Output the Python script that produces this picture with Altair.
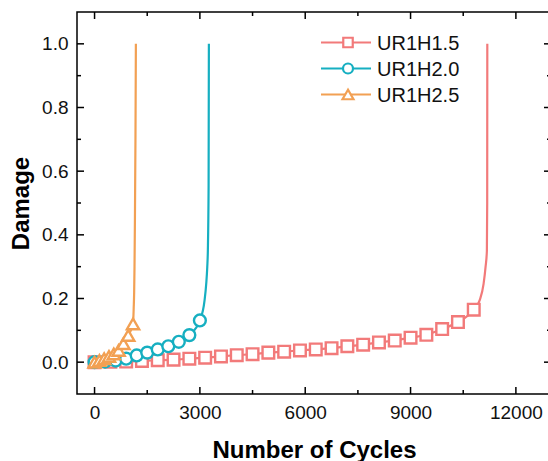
import altair as alt
import pandas as pd

# ---- data ----
series = ["UR1H1.5", "UR1H2.0", "UR1H2.5"]
colors = ["#F27A7A", "#16AFC1", "#F2A053"]
shapes = ["square", "circle", "triangle-up"]

red_mx = [0, 450, 900, 1350, 1800, 2250, 2700, 3150, 3600, 4050, 4500, 4950, 5400,
          5850, 6300, 6750, 7200, 7650, 8100, 8550, 9000, 9450, 9900, 10350, 10800]
red_my = [0.000, 0.001, 0.002, 0.004, 0.006, 0.008, 0.011, 0.014, 0.018, 0.022, 0.025,
          0.030, 0.033, 0.037, 0.040, 0.044, 0.050, 0.055, 0.062, 0.068, 0.077, 0.086,
          0.104, 0.126, 0.165]
red_tx = [10970, 11080, 11137, 11174, 11183, 11186]
red_ty = [0.195, 0.246, 0.300, 0.350, 0.500, 1.000]

blue_mx = [0, 300, 600, 900, 1200, 1500, 1800, 2100, 2400, 2700, 3000]
blue_my = [0.000, 0.002, 0.005, 0.011, 0.021, 0.030, 0.040, 0.050, 0.064, 0.085, 0.131]
blue_tx = [3133, 3181, 3210, 3227, 3248, 3256]
blue_ty = [0.194, 0.247, 0.299, 0.351, 0.550, 1.000]

orange_mx = [0, 137, 274, 411, 548, 685, 822, 959, 1096]
orange_my = [0.000, 0.005, 0.011, 0.018, 0.026, 0.037, 0.058, 0.084, 0.120]
orange_tx = [1115, 1128, 1138, 1150, 1165, 1177]
orange_ty = [0.170, 0.220, 0.300, 0.450, 0.700, 1.000]

x_major = [0, 3000, 6000, 9000, 12000]
x_minor = [1500, 4500, 7500, 10500]
y_major = [0.0, 0.2, 0.4, 0.6, 0.8, 1.0]
y_minor = [0.1, 0.3, 0.5, 0.7, 0.9]

W, H = 474, 382
FONT = "Liberation Sans"

xs = alt.Scale(domain=[-500, 13000], nice=False, zero=False)
ys = alt.Scale(domain=[-0.1, 1.1], nice=False, zero=False)

marker_sets = [(red_mx, red_my, red_tx, red_ty),
               (blue_mx, blue_my, blue_tx, blue_ty),
               (orange_mx, orange_my, orange_tx, orange_ty)]
marker_sizes = [135, 140, 150]

layers = []
first = True
for name, col, shp, msz, (mx, my, tx, ty) in zip(series, colors, shapes, marker_sizes, marker_sets):
    line_df = pd.DataFrame({"x": list(mx) + list(tx), "y": list(my) + list(ty)})
    pt_df = pd.DataFrame({"x": mx, "y": my})
    if first:
        xenc = alt.X("x:Q", scale=xs, axis=alt.Axis(
            values=x_major, format="d", ticks=False, domain=False, grid=False,
            labelPadding=9, title="Number of Cycles", titlePadding=16,
            labelFont=FONT, labelFontSize=19, labelColor="#111111",
            titleFont=FONT, titleFontSize=24, titleFontWeight="bold", titleColor="black"))
        yenc = alt.Y("y:Q", scale=ys, axis=alt.Axis(
            values=y_major, format=".1f", ticks=False, domain=False, grid=False,
            labelPadding=9, title="Damage", titlePadding=8,
            labelFont=FONT, labelFontSize=19, labelColor="#111111",
            titleFont=FONT, titleFontSize=24, titleFontWeight="bold", titleColor="black"))
        first = False
    else:
        xenc = alt.X("x:Q", scale=xs)
        yenc = alt.Y("y:Q", scale=ys)
    layers.append(alt.Chart(line_df).mark_line(
        color=col, strokeWidth=2.2, interpolate="monotone").encode(x=xenc, y=yenc))
    layers.append(alt.Chart(pt_df).mark_point(
        shape=shp, size=msz, filled=True, fill="white", stroke=col, strokeWidth=2.4,
        opacity=1).encode(x=alt.X("x:Q", scale=xs), y=alt.Y("y:Q", scale=ys)))

# inward ticks on all four sides
def xticks(vals, ln):
    df = pd.DataFrame({"x": vals})
    bot = alt.Chart(df).mark_rule(color="black", strokeWidth=1.5).encode(
        x=alt.X("x:Q", scale=xs), y=alt.value(H), y2=alt.value(H - ln))
    top = alt.Chart(df).mark_rule(color="black", strokeWidth=1.5).encode(
        x=alt.X("x:Q", scale=xs), y=alt.value(0), y2=alt.value(ln))
    return [bot, top]

def yticks(vals, ln):
    df = pd.DataFrame({"y": vals})
    lft = alt.Chart(df).mark_rule(color="black", strokeWidth=1.5).encode(
        y=alt.Y("y:Q", scale=ys), x=alt.value(0), x2=alt.value(ln))
    rgt = alt.Chart(df).mark_rule(color="black", strokeWidth=1.5).encode(
        y=alt.Y("y:Q", scale=ys), x=alt.value(W), x2=alt.value(W - ln))
    return [lft, rgt]

layers += xticks(x_major, 7) + xticks(x_minor, 4) + yticks(y_major, 7) + yticks(y_minor, 4)

# legend
legend_sizes = [90, 100, 120]
for i, (name, col, shp, lsz) in enumerate(zip(series, colors, shapes, legend_sizes)):
    ldf = pd.DataFrame({"s": [name]})
    ypix = 30.5 + 26 * i
    layers.append(alt.Chart(ldf).mark_rule(color=col, strokeWidth=2.2).encode(
        x=alt.value(244), x2=alt.value(294), y=alt.value(ypix)))
    layers.append(alt.Chart(ldf).mark_point(
        shape=shp, size=lsz, filled=True, fill="white", stroke=col, strokeWidth=2.2,
        opacity=1).encode(x=alt.value(271), y=alt.value(ypix)))
    layers.append(alt.Chart(ldf).mark_text(
        align="left", baseline="middle", font=FONT, fontSize=20, color="#111111").encode(
        x=alt.value(300), y=alt.value(ypix + 1), text="s:N"))

chart = alt.layer(*layers).properties(
    width=W, height=H,
    background="white",
    autosize=alt.AutoSizeParams(type="none"),
    padding={"left": 77, "top": 12, "right": -3, "bottom": 67},
).configure_view(stroke="black", strokeWidth=1.5)

chart.save("out.html", embed_options={"renderer": "svg", "actions": False})
